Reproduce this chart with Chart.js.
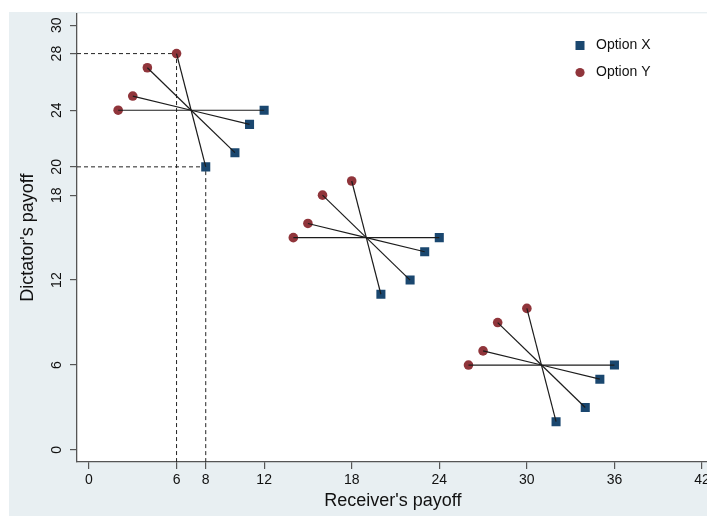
<!DOCTYPE html>
<html>
<head>
<meta charset="utf-8">
<script src="https://cdn.jsdelivr.net/npm/chart.js@4/dist/chart.umd.min.js"></script>
<style>
  html, body { margin: 0; padding: 0; background: #fff; overflow: hidden; }
  canvas { display: block; }
</style>
</head>
<body>
<!-- canvas a little wider than the window: the reference plot runs off its right edge -->
<canvas id="chart" width="715" height="516"></canvas>
<script>
// ── Data ───────────────────────────────────────────────────
const centers = [[7, 24], [19, 15], [31, 6]];
const optionX = [
  [[12, 24], [11, 23], [10, 21], [8, 20]],
  [[24, 15], [23, 14], [22, 12], [20, 11]],
  [[36, 6], [35, 5], [34, 3], [32, 2]]
];
const optionY = [
  [[2, 24], [3, 25], [4, 27], [6, 28]],
  [[14, 15], [15, 16], [16, 18], [18, 19]],
  [[26, 6], [27, 7], [28, 9], [30, 10]]
];
const guides = [[6, 28], [8, 20]];          // dashed read-off lines
const xTicks = [0, 6, 8, 12, 18, 24, 30, 36, 42];
const yTicks = [0, 6, 12, 18, 20, 24, 28, 30];
const X_MIN = -0.82, X_MAX = 42.45, Y_MIN = -0.85, Y_MAX = 30.84;

const NAVY = '#1a476f', MAROON = '#90353b', AXIS = '#555';
const FONT = "'Liberation Sans', Arial, Helvetica, sans-serif";

const pt = ([x, y]) => ({ x, y });

// segments from every option to its group centre
const segments = [];
centers.forEach((c, g) => {
  [...optionY[g], ...optionX[g]].forEach(p => {
    segments.push({
      data: [pt(p), pt(c)], showLine: true, pointRadius: 0,
      borderColor: '#1c1c1c', borderWidth: 1.2, order: 0, isAux: true
    });
  });
});

const guideSets = guides.map(([gx, gy]) => ({
  data: [{ x: X_MIN, y: gy }, { x: gx, y: gy }, { x: gx, y: Y_MIN }],
  showLine: true, pointRadius: 0, borderColor: '#222', borderWidth: 1,
  borderDash: [4, 3], order: 3, isAux: true
}));

const datasets = [
  { label: 'Option X', data: optionX.flat().map(pt), pointStyle: 'rect',
    pointRadius: 6.4, backgroundColor: NAVY, borderWidth: 0, order: 1 },
  { label: 'Option Y', data: optionY.flat().map(pt), pointStyle: 'circle',
    pointRadius: 4.8, backgroundColor: MAROON, borderWidth: 0, order: 1 },
  ...segments,
  ...guideSets
];

// ── Plugins: background panel + in-plot legend ─────────────
const panelBg = {
  id: 'panelBg',
  beforeDraw(chart) {
    const { ctx, chartArea: a, width, height } = chart;
    ctx.save();
    ctx.fillStyle = '#fff';
    ctx.fillRect(0, 0, width, height);
    ctx.fillStyle = '#e8eff2';
    ctx.fillRect(9, 12, width - 9, height - 12);
    ctx.fillStyle = '#fff';
    ctx.fillRect(a.left, a.top, a.right - a.left, a.bottom - a.top);
    ctx.restore();
  }
};

const plotLegend = {
  id: 'plotLegend',
  afterDraw(chart) {
    const { ctx } = chart;
    ctx.save();
    ctx.font = `14px ${FONT}`;
    ctx.textBaseline = 'middle';
    chart.data.datasets.filter(d => !d.isAux).forEach((d, i) => {
      const y = 45.5 + i * 27, x = 580;
      ctx.fillStyle = d.backgroundColor;
      if (d.pointStyle === 'rect') ctx.fillRect(x - 4.5, y - 4.5, 9, 9);
      else { ctx.beginPath(); ctx.arc(x, y, 4.6, 0, Math.PI * 2); ctx.fill(); }
      ctx.fillStyle = '#111';
      ctx.fillText(d.label, 596, y);
    });
    ctx.restore();
  }
};

// ── Chart ──────────────────────────────────────────────────
const axisCommon = {
  type: 'linear',
  border: { display: true, color: AXIS, width: 1.3 },
  grid: { display: true, drawOnChartArea: false, drawTicks: true, tickLength: 7, color: AXIS, lineWidth: 1.2 }
};

new Chart(document.getElementById('chart').getContext('2d'), {
  type: 'scatter',
  data: { datasets },
  options: {
    responsive: false, animation: false, devicePixelRatio: 1,
    layout: { padding: { left: 17, top: 13, right: 0, bottom: 4 } },
    plugins: { legend: { display: false }, tooltip: { enabled: false } },
    scales: {
      x: {
        ...axisCommon, min: X_MIN, max: X_MAX,
        afterBuildTicks: s => { s.ticks = xTicks.map(v => ({ value: v })); },
        afterFit: s => { s.height = 50; },
        ticks: { color: '#111', padding: 3, maxRotation: 0, autoSkip: false, font: { family: FONT, size: 14 } },
        title: { display: true, text: "Receiver's payoff", color: '#111', padding: 0, font: { family: FONT, size: 18 } }
      },
      y: {
        ...axisCommon, min: Y_MIN, max: Y_MAX,
        afterBuildTicks: s => { s.ticks = yTicks.map(v => ({ value: v })); },
        afterFit: s => { s.width = 60; },
        ticks: { color: '#111', padding: 5, minRotation: 90, maxRotation: 90, crossAlign: 'center',
                 autoSkip: false, font: { family: FONT, size: 14 } },
        title: { display: true, text: "Dictator's payoff", color: '#111', padding: 0, font: { family: FONT, size: 18 } }
      }
    }
  },
  plugins: [panelBg, plotLegend]
});
</script>
</body>
</html>
